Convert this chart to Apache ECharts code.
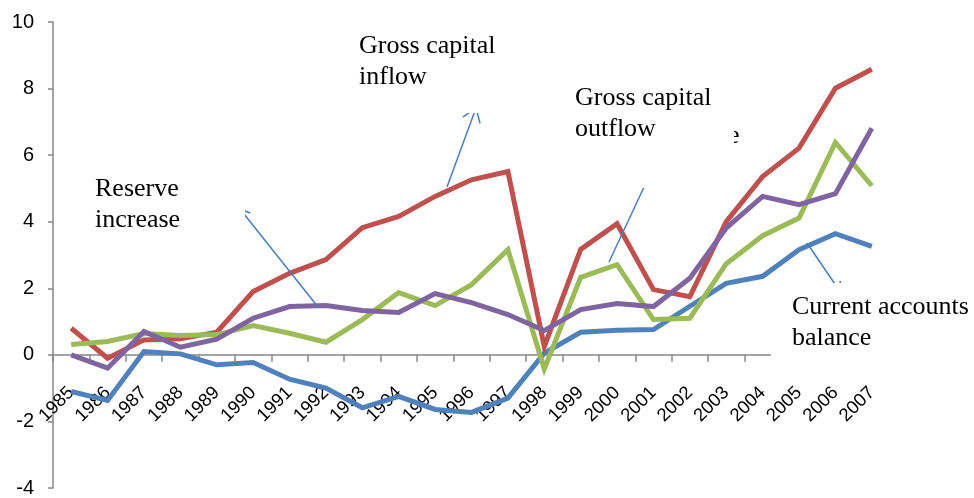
<!DOCTYPE html>
<html>
<head>
<meta charset="utf-8">
<script src="https://cdn.jsdelivr.net/npm/echarts@6/dist/echarts.min.js"></script>
<style>
  html, body { margin: 0; padding: 0; background: #fff; }
  #chart { width: 974px; height: 498px; }
</style>
</head>
<body>
<div id="chart"></div>
<script>
// Years on the category axis
const years = ['1985','1986','1987','1988','1989','1990','1991','1992','1993','1994','1995','1996',
               '1997','1998','1999','2000','2001','2002','2003','2004','2005','2006','2007'];

// Series values (percent)
const currentAccount  = [-1.1,-1.37,0.1,0.03,-0.3,-0.23,-0.73,-1.0,-1.59,-1.25,-1.64,-1.73,-1.3,0.05,0.68,0.74,0.76,1.46,2.15,2.36,3.16,3.64,3.26];
const grossInflow     = [0.8,-0.1,0.45,0.48,0.68,1.9,2.45,2.86,3.82,4.16,4.76,5.26,5.51,0.25,3.17,3.94,1.96,1.75,4.0,5.36,6.21,8.01,8.58];
const grossOutflow    = [0.31,0.4,0.64,0.58,0.61,0.88,0.65,0.38,1.06,1.87,1.48,2.11,3.16,-0.42,2.33,2.71,1.06,1.1,2.74,3.58,4.11,6.38,5.08];
const reserveIncrease = [0.0,-0.4,0.7,0.23,0.47,1.1,1.45,1.48,1.33,1.27,1.84,1.57,1.21,0.73,1.36,1.54,1.45,2.3,3.81,4.76,4.51,4.84,6.81];

// Y axis range
const yMin = -4, yMax = 10, yStep = 2;

const W = 974, H = 498;
const GRID = { left: 53, right: 84, top: 22, bottom: 10 };
const plotH = H - GRID.top - GRID.bottom;
// the category axis crosses at value 0: lift it from the grid bottom to there
const zeroLift = plotH * (0 - yMin) / (yMax - yMin);

const AXIS_GREY = '#868686';
const ARROW_BLUE = '#4a7ebb';
const SERIF = '"Liberation Serif", "Times New Roman", serif';
const SANS = '"Liberation Sans", Arial, sans-serif';

function lineSeries(name, data, color) {
  return {
    name, type: 'line', data,
    symbol: 'none',
    lineStyle: { color, width: 5, join: 'miter' },
    itemStyle: { color },
    emphasis: { disabled: true },
    animation: false
  };
}

// Open arrow: shaft from (x1,y1) to tip (x2,y2) plus two barbs
function arrow(x1, y1, x2, y2, len, angDeg) {
  const dx = x1 - x2, dy = y1 - y2, d = Math.hypot(dx, dy);
  const ux = dx / d, uy = dy / d, a = angDeg * Math.PI / 180;
  const b1 = [x2 + len * (ux * Math.cos(a) - uy * Math.sin(a)), y2 + len * (ux * Math.sin(a) + uy * Math.cos(a))];
  const b2 = [x2 + len * (ux * Math.cos(-a) - uy * Math.sin(-a)), y2 + len * (ux * Math.sin(-a) + uy * Math.cos(-a))];
  const style = { stroke: ARROW_BLUE, lineWidth: 1.5, fill: null };
  return [
    { type: 'polyline', z: 90, shape: { points: [[x1, y1], [x2, y2]] }, style },
    { type: 'polyline', z: 90, shape: { points: [b1, [x2, y2], b2] }, style }
  ];
}

// White text box that sits over the plot
function noteBox(rx, ry, rw, rh, tx, ty, text) {
  return [
    { type: 'rect', z: 100, shape: { x: rx, y: ry, width: rw, height: rh }, style: { fill: '#fff' } },
    { type: 'text', z: 101, x: tx, y: ty,
      style: { text, font: '26px ' + SERIF, fill: '#000', lineHeight: 31, textVerticalAlign: 'top' } }
  ];
}

const chart = echarts.init(document.getElementById('chart'), null, { renderer: 'canvas' });

chart.setOption({
  animation: false,
  backgroundColor: '#fff',
  grid: Object.assign({ containLabel: false, outerBoundsMode: 'none' }, GRID),
  xAxis: {
    type: 'category',
    data: years,
    boundaryGap: true,
    position: 'bottom',
    offset: -zeroLift,
    axisLine: { onZero: false, lineStyle: { color: AXIS_GREY, width: 1.5 } },
    axisTick: { show: true, length: 7, lineStyle: { color: AXIS_GREY, width: 1.5 } },
    axisLabel: { rotate: 45, margin: 35, fontSize: 18.5, color: '#000', fontFamily: SANS, interval: 0, hideOverlap: false },
    splitLine: { show: false }
  },
  yAxis: {
    type: 'value',
    min: yMin, max: yMax, interval: yStep,
    axisLine: { show: true, lineStyle: { color: AXIS_GREY, width: 1.5 } },
    axisTick: { show: true, length: 5, lineStyle: { color: AXIS_GREY, width: 1.5 } },
    axisLabel: { fontSize: 20, color: '#000', margin: 19, fontFamily: SANS },
    splitLine: { show: false }
  },
  series: [
    lineSeries('Current accounts balance', currentAccount, '#4f81bd'),
    lineSeries('Gross capital inflow', grossInflow, '#c0504d'),
    lineSeries('Gross capital outflow', grossOutflow, '#9bbb59'),
    lineSeries('Reserve increase', reserveIncrease, '#8064a2')
  ],
  graphic: [].concat(
    arrow(447, 187, 476, 108, 16, 35),
    arrow(609, 262, 652, 170, 14, 30),
    arrow(318, 307, 240, 209, 11, 30),
    arrow(807, 243, 841, 293, 12, 30),
    // stray glyph partly hidden behind the outflow note
    [{ type: 'text', z: 95, x: 728, y: 123,
       style: { text: 'e', font: '26px ' + SERIF, fill: '#000', textVerticalAlign: 'top' } }],
    noteBox(350, 25, 170, 88, 359, 31, 'Gross capital\ninflow'),
    noteBox(566, 78, 168, 110, 575, 83, 'Gross capital\noutflow'),
    noteBox(86, 168, 159, 94, 95, 174, 'Reserve\nincrease'),
    noteBox(771, 283, 203, 82, 792, 292, 'Current accounts\nbalance')
  )
});
</script>
</body>
</html>
